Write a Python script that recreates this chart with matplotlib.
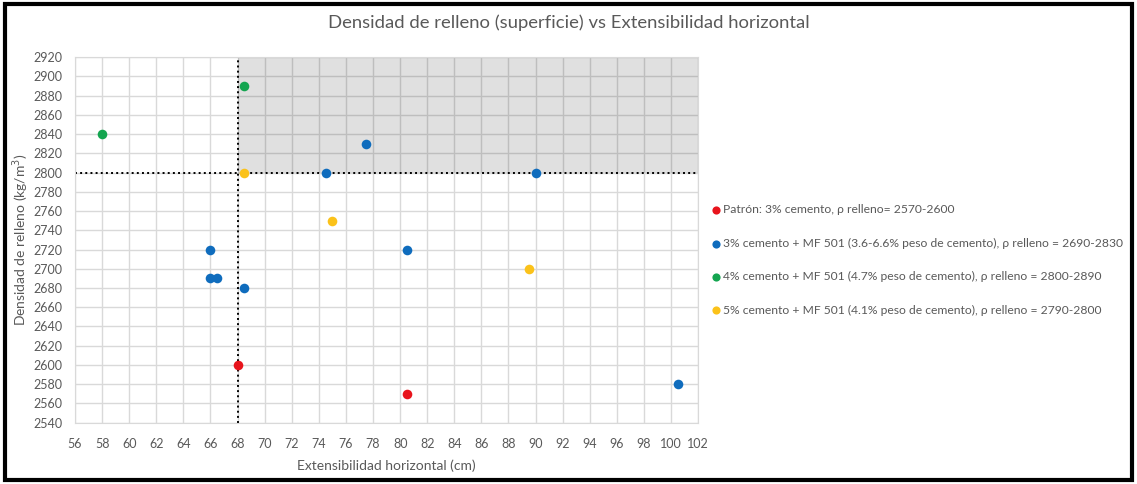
import matplotlib.pyplot as plt
from matplotlib.patches import Rectangle

plt.rcParams['font.family'] = ['Lato', 'DejaVu Sans']

# series: extensibilidad horizontal (cm), densidad de relleno (kg/m3)
patron_x = [68, 80.5]
patron_y = [2600, 2570]
mf3_x = [66, 66, 66.5, 68.5, 74.5, 77.5, 80.5, 90, 100.5]
mf3_y = [2720, 2690, 2690, 2680, 2800, 2830, 2720, 2800, 2580]
mf4_x = [58, 68.5]
mf4_y = [2840, 2890]
mf5_x = [68.5, 75, 89.5]
mf5_y = [2800, 2750, 2700]

labels = [
    'Patrón: 3% cemento, ρ relleno= 2570-2600',
    '3% cemento + MF 501 (3.6-6.6% peso de cemento), ρ relleno = 2690-2830',
    '4% cemento + MF 501 (4.7% peso de cemento), ρ relleno = 2800-2890',
    '5% cemento + MF 501 (4.1% peso de cemento), ρ relleno = 2790-2800',
]
colors = ['#e8141c', '#0f6cbd', '#14a550', '#fbc21a']

x_min, x_max = 56, 102
y_min, y_max = 2540, 2920
x_limit, y_limit = 68, 2800

grey = '#595959'
fig = plt.figure(figsize=(11.37, 4.84), dpi=100)
ax = fig.add_axes([0.066, 0.1267, 0.548, 0.7553])

ax.set_xlim(x_min, x_max)
ax.set_ylim(y_min, y_max)
ax.set_xticks(range(x_min, x_max + 1, 2))
ax.set_yticks(range(y_min, y_max + 1, 20))
ax.grid(True, color='#d9d9d9', linewidth=1.0, zorder=0)
ax.set_axisbelow(True)
for s in ax.spines.values():
    s.set_color('#d9d9d9')
ax.tick_params(axis='x', length=0, labelsize=9, labelcolor=grey, pad=11)
ax.tick_params(axis='y', length=0, labelsize=9, labelcolor=grey, pad=9)

# shaded acceptance zone
ax.add_patch(Rectangle((x_limit, y_limit), x_max - x_limit, y_max - y_limit,
                       facecolor='black', alpha=0.12, edgecolor='none', zorder=1))
ax.axvline(x_limit, color='black', linestyle=':', linewidth=1.4, zorder=2)
ax.axhline(y_limit, color='black', linestyle=':', linewidth=1.4, zorder=2)

series = [(patron_x, patron_y), (mf3_x, mf3_y), (mf4_x, mf4_y), (mf5_x, mf5_y)]
for (xs, ys), lab, c in zip(series, labels, colors):
    ax.scatter(xs, ys, s=48, color=c, label=lab, zorder=3, linewidths=0)

ax.set_xlabel('Extensibilidad horizontal (cm)', fontsize=10, color=grey, labelpad=7)
ax.set_ylabel('Densidad de relleno (kg/m$^3$)', fontsize=10, color=grey, labelpad=2)
fig.text(0.5, 0.953, 'Densidad de relleno (superficie) vs Extensibilidad horizontal',
         ha='center', va='center', fontsize=13.3, color=grey)

leg = ax.legend(loc='upper left', bbox_to_anchor=(1.0, 0.63), frameon=False,
                fontsize=8.7, labelspacing=1.85, handletextpad=0.05,
                handlelength=1.0, markerscale=0.85, borderaxespad=0.6)
for t in leg.get_texts():
    t.set_color(grey)

fig.patches.append(Rectangle((0.004, 0.008), 0.992, 0.984, transform=fig.transFigure,
                             fill=False, edgecolor='black', linewidth=3.0))

fig.savefig('out.png', dpi=100)
